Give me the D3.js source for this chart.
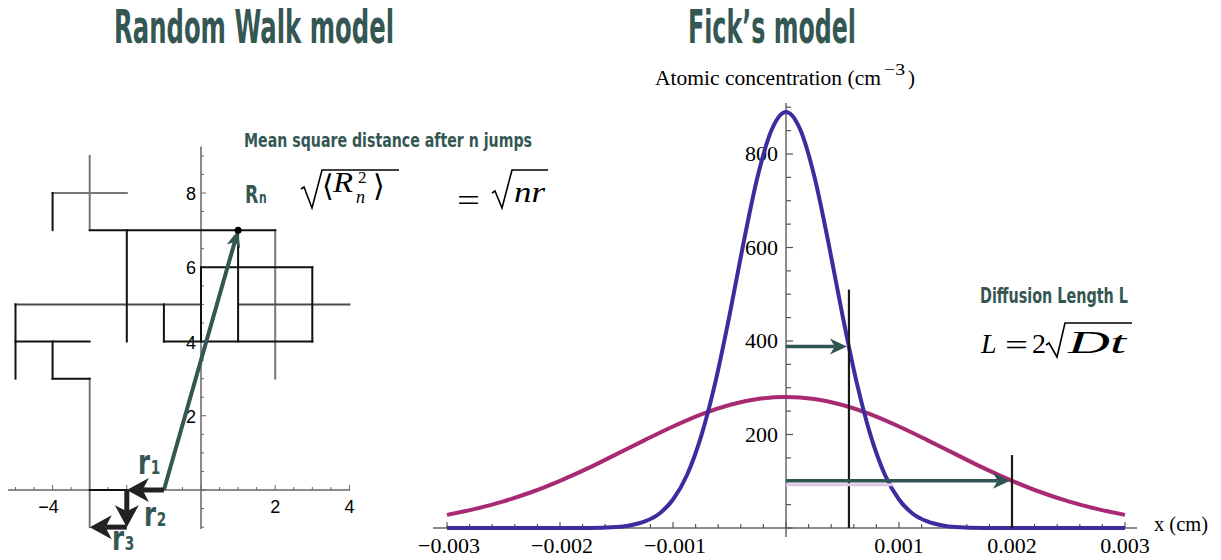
<!DOCTYPE html>
<html>
<head>
<meta charset="utf-8">
<script src="https://cdn.jsdelivr.net/npm/d3@7"></script>
<style>
  body { margin: 0; background: #fff; }
  svg { display: block; }
</style>
</head>
<body>
<svg id="chart" width="1221" height="560"></svg>
<script>
// ---------- Random walk (lattice units) ----------
// earlier part of the walk, drawn in grey: [x1, y1, x2, y2]
const walkEarly = [
  [-4, 8, -2, 8], [-3, 9, -3, 7], [2, 7, 2, 3], [-3, 3, -3, -1]
];
// middle crossing, dark grey
const walkMiddle = [[-5, 5, 0, 5], [1, 5, 4, 5]];
// later part of the walk, drawn in black
const walkLate = [
  [-4, 8, -4, 7], [-3, 7, 2, 7], [-2, 7, -2, 4], [1, 7, 1, 4],
  [0, 6, 3, 6], [0, 6, 0, 4], [3, 6, 3, 4], [-1, 5, -1, 4],
  [-1, 4, 3, 4], [-5, 4, -3, 4], [-5, 5, -5, 3], [-4, 4, -4, 3],
  [-4, 3, -3, 3], [-3, 0, -2, 0]
];
// first three jumps r1, r2, r3
const jumps = [[-1, 0, -2, 0], [-2, 0, -2, -1], [-2, -1, -3, -1]];
const jumpNames = ["1", "2", "3"];
const walkStart = [-1, 0];
const walkEnd = [1, 7];
const walkXTicks = [-4, 2, 4];
const walkYTicks = [2, 4, 6, 8];

// ---------- Fick's model: concentration profiles (cm^-3 vs cm) ----------
const xShort = [-0.003, -0.002, -0.00175, -0.0015, -0.001375, -0.00125, -0.001125, -0.001,
  -0.000875, -0.00075, -0.000625, -0.0005, -0.000375, -0.00025, -0.000125, 0,
  0.000125, 0.00025, 0.000375, 0.0005, 0.000625, 0.00075, 0.000875, 0.001,
  0.001125, 0.00125, 0.001375, 0.0015, 0.00175, 0.002, 0.003];
const cShort = [0, 0, 0, 2, 6, 14, 30, 61,
  114, 197, 312, 455, 611, 753, 853, 890,
  853, 753, 611, 455, 312, 197, 114, 61,
  30, 14, 6, 2, 0, 0, 0];
const xLong = [-0.003, -0.00275, -0.0025, -0.00225, -0.002, -0.00175, -0.0015, -0.00125,
  -0.001, -0.00075, -0.0005, -0.00025, 0, 0.00025, 0.0005, 0.00075, 0.001,
  0.00125, 0.0015, 0.00175, 0.002, 0.00225, 0.0025, 0.00275, 0.003];
const cLong = [28, 41, 57, 77, 101, 128, 158, 188,
  217, 243, 263, 276, 280, 276, 263, 243, 217,
  188, 158, 128, 101, 77, 57, 41, 28];
const fickXTicks = [-0.003, -0.002, -0.001, 0.001, 0.002, 0.003];
const fickXTickText = ["\u22120.003", "\u22120.002", "\u22120.001", "0.001", "0.002", "0.003"];
const fickYTicks = [200, 400, 600, 800];
// diffusion lengths and the concentration reached there
const diffLengths = [0.000557, 0.002];
const levels = [388, 101];
const markerTops = [510, 156];

const teal = "#355754";
const svg = d3.select("#chart");
const condensed = "'Liberation Sans Narrow','DejaVu Sans Condensed','Arial Narrow',sans-serif";
const serif = "'Liberation Serif','DejaVu Serif',serif";
const sans = "'Liberation Sans','Helvetica',Arial,sans-serif";

function txt(g, x, y, s, o = {}) {
  const t = g.append("text").attr("x", x).attr("y", y).text(s)
    .attr("font-family", o.family || serif)
    .attr("font-size", o.size || 16)
    .attr("fill", o.fill || "#000")
    .attr("text-anchor", o.anchor || "start");
  if (o.style) t.attr("font-style", o.style);
  if (o.weight) t.attr("font-weight", o.weight);
  if (o.len) t.attr("textLength", o.len).attr("lengthAdjust", "spacingAndGlyphs");
  return t;
}

// condensed label with a subscript, kept in one text element
function subLabel(g, x, y, main, sub, o) {
  const t = g.append("text")
    .attr("transform", `translate(${x},${y}) scale(${o.sx},1)`)
    .attr("font-family", condensed).attr("font-weight", "bold").attr("fill", teal);
  t.append("tspan").attr("font-size", o.size).text(main);
  t.append("tspan").attr("font-size", o.subSize).attr("dx", o.gap || 0).text(sub);
  return t;
}

function arrow(g, x1, y1, x2, y2, o) {
  const dx = x2 - x1, dy = y2 - y1, L = Math.hypot(dx, dy);
  const ux = dx / L, uy = dy / L, nx = -uy, ny = ux;
  const bx = x2 - ux * o.head, by = y2 - uy * o.head;
  const mx = x2 - ux * o.head * 0.72, my = y2 - uy * o.head * 0.72;
  g.append("line").attr("x1", x1).attr("y1", y1).attr("x2", mx).attr("y2", my)
    .attr("stroke", o.color).attr("stroke-width", o.width);
  g.append("path")
    .attr("d", `M${x2},${y2}L${bx + nx * o.half},${by + ny * o.half}L${mx},${my}L${bx - nx * o.half},${by - ny * o.half}Z`)
    .attr("fill", o.color);
}

function radical(g, pts) {
  g.append("path").attr("d", d3.line()(pts)).attr("fill", "none")
    .attr("stroke", "#000").attr("stroke-width", 1.6).attr("stroke-linejoin", "miter");
}

// ---------- titles ----------
txt(svg, 114, 43, "Random Walk model", { family: condensed, size: 46, weight: "bold", fill: teal, len: 280 });
txt(svg, 688, 43, "Fick\u2019s model", { family: condensed, size: 46, weight: "bold", fill: teal, len: 168 });

// ---------- left panel: random walk ----------
const L = svg.append("g");
const wx = d3.scaleLinear().domain([-4, 4]).range([52.6, 349.4]);
const wy = d3.scaleLinear().domain([0, 8]).range([490, 193]);

// axes
L.append("line").attr("x1", wx(-5.2)).attr("x2", wx(4.02)).attr("y1", wy(0)).attr("y2", wy(0))
  .attr("stroke", "#666").attr("stroke-width", 1.5);
L.append("line").attr("x1", wx(0)).attr("x2", wx(0)).attr("y1", wy(-1.05)).attr("y2", wy(9.25))
  .attr("stroke", "#666").attr("stroke-width", 1.5);
d3.range(-5, 4.01, 0.5).forEach(v => {
  const major = Math.abs(v % 2) < 1e-9;
  L.append("line").attr("x1", wx(v)).attr("x2", wx(v)).attr("y1", wy(0)).attr("y2", wy(0) - (major ? 5 : 3))
    .attr("stroke", "#666").attr("stroke-width", 1);
});
d3.range(-1, 9.01, 0.5).forEach(v => {
  const major = Math.abs(v % 2) < 1e-9;
  L.append("line").attr("x1", wx(0)).attr("x2", wx(0) + (major ? 5 : 3)).attr("y1", wy(v)).attr("y2", wy(v))
    .attr("stroke", "#666").attr("stroke-width", 1);
});
walkXTicks.forEach(v => txt(L, wx(v) - (v < 0 ? 4 : 0), wy(0) + 23, v < 0 ? "\u2212" + (-v) : String(v),
  { family: sans, size: 18, anchor: "middle" }));
walkYTicks.forEach(v => txt(L, wx(0) - 5, wy(v) + 7, String(v), { family: sans, size: 18, anchor: "end" }));

// lattice walk
const seg = (arr, color) => arr.forEach(s => L.append("line")
  .attr("x1", wx(s[0])).attr("y1", wy(s[1])).attr("x2", wx(s[2])).attr("y2", wy(s[3]))
  .attr("stroke", color).attr("stroke-width", 2).attr("stroke-linecap", "square"));
seg(walkEarly, "#777");
seg(walkMiddle, "#4a4a4a");
seg(walkLate, "#111");

// net displacement R_n
arrow(L, wx(walkStart[0]), wy(walkStart[1]), wx(walkEnd[0]), wy(walkEnd[1]),
  { color: teal, width: 4, head: 17, half: 7 });
L.append("circle").attr("cx", wx(walkEnd[0])).attr("cy", wy(walkEnd[1])).attr("r", 3.5).attr("fill", "#000");

// individual jumps
jumps.forEach(j => arrow(L, wx(j[0]), wy(j[1]), wx(j[2]), wy(j[3]),
  { color: "#222", width: 5, head: 22, half: 12 }));
const jumpLabelPos = [[138, 474], [144, 526], [112, 550]];
jumps.forEach((j, i) => {
  const p = jumpLabelPos[i];
  subLabel(L, p[0], p[1], "r", jumpNames[i], { size: 34, subSize: 19, sx: 0.8, gap: 1 });
});

// mean square distance annotation
txt(svg, 244, 147, "Mean square distance after n jumps", { family: condensed, size: 20, weight: "bold", fill: teal, len: 288 });
subLabel(svg, 245, 203, "R", "n", { size: 24, subSize: 15, sx: 0.8, gap: 1 });
radical(svg, [[301, 189], [304, 187], [312, 208], [322, 170], [399, 170]]);
txt(svg, 322, 196, "\u27E8", { size: 30 });
txt(svg, 333, 192, "R", { size: 29, style: "italic", len: 20 });
txt(svg, 358, 183, "2", { size: 17 });
txt(svg, 356, 203, "n", { size: 18, style: "italic" });
txt(svg, 373, 196, "\u27E9", { size: 30 });
txt(svg, 457, 211, "=", { size: 32, len: 23 });
radical(svg, [[492, 193], [495, 191], [502, 208], [512, 170], [548, 170]]);
txt(svg, 514, 202, "nr", { size: 30, style: "italic", len: 31 });

// ---------- right panel: Fick's model ----------
const R = svg.append("g");
const fx = d3.scaleLinear().domain([-0.003, 0.003]).range([447, 1125]);
const fy = d3.scaleLinear().domain([0, 800]).range([528, 154]);

R.append("line").attr("x1", 433).attr("x2", 1137).attr("y1", fy(0)).attr("y2", fy(0))
  .attr("stroke", "#666").attr("stroke-width", 1.5);
R.append("line").attr("x1", fx(0)).attr("x2", fx(0)).attr("y1", 537).attr("y2", 103)
  .attr("stroke", "#666").attr("stroke-width", 1.5);
d3.range(-0.003, 0.00301, 0.0002).forEach(v => {
  const major = Math.abs(Math.round(v * 1000) - v * 1000) < 1e-6;
  R.append("line").attr("x1", fx(v)).attr("x2", fx(v)).attr("y1", fy(0)).attr("y2", fy(0) - (major ? 6 : 4))
    .attr("stroke", "#555").attr("stroke-width", 1.2);
});
d3.range(0, 901, 50).forEach(v => {
  const major = v % 200 === 0;
  R.append("line").attr("x1", fx(0)).attr("x2", fx(0) + (major ? 7 : 5)).attr("y1", fy(v)).attr("y2", fy(v))
    .attr("stroke", "#555").attr("stroke-width", 1.2);
});
fickXTicks.forEach((v, i) => txt(R, fx(v) + (v < 0 ? 2 : 0), fy(0) + 25, fickXTickText[i], { size: 22, anchor: "middle" }));
fickYTicks.forEach(v => txt(R, fx(0) - 8, fy(v) + 7, String(v), { size: 22, anchor: "end" }));

txt(R, 655, 85, "Atomic concentration (cm", { size: 21, len: 226 });
txt(R, 884, 75, "\u22123", { size: 16, len: 21 });
txt(R, 908, 85, ")", { size: 21 });
txt(R, 1154, 531, "x (cm)", { size: 21, len: 54 });

// profiles
const line = (xs, cs) => d3.line().x((d, i) => fx(xs[i])).y((d, i) => fy(cs[i])).curve(d3.curveMonotoneX)(cs);
R.append("path").attr("d", line(xLong, cLong)).attr("fill", "none")
  .attr("stroke", "#a82a72").attr("stroke-width", 4);
R.append("path").attr("d", line(xShort, cShort)).attr("fill", "none")
  .attr("stroke", "#3e2c9f").attr("stroke-width", 4);

// diffusion length markers
diffLengths.forEach((d, i) => {
  R.append("line").attr("x1", fx(d)).attr("x2", fx(d)).attr("y1", fy(markerTops[i])).attr("y2", fy(0))
    .attr("stroke", "#1a1a1a").attr("stroke-width", 2.2);
});
R.append("line").attr("x1", fx(0)).attr("x2", fx(0.00095)).attr("y1", fy(levels[1]) + 4).attr("y2", fy(levels[1]) + 4)
  .attr("stroke", "#e0c8e4").attr("stroke-width", 3);
diffLengths.forEach((d, i) => arrow(R, fx(0), fy(levels[i]), fx(d) - 2, fy(levels[i]),
  { color: "#2f5451", width: 3.5, head: 17, half: 8 }));

txt(svg, 980, 303, "Diffusion Length L", { family: condensed, size: 21, weight: "bold", fill: teal, len: 148 });
txt(svg, 981, 353, "L", { size: 28, style: "italic" });
txt(svg, 1005, 355, "=", { size: 30, len: 23 });
txt(svg, 1032, 353, "2", { size: 28 });
radical(svg, [[1046, 345], [1049, 343], [1057, 357], [1065, 323], [1132, 323]]);
txt(svg, 1068, 353, "Dt", { size: 31, style: "italic", len: 58 });
</script>
</body>
</html>
